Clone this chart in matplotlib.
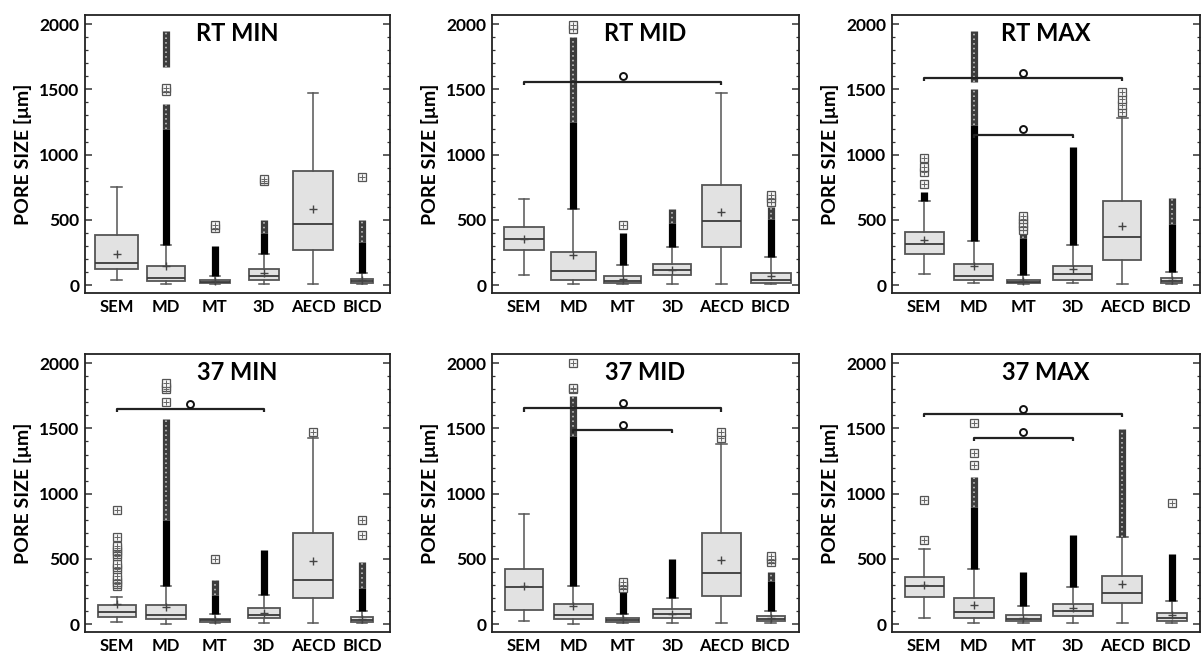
import matplotlib
matplotlib.use('Agg')
import matplotlib.pyplot as plt
from matplotlib.ticker import MultipleLocator

categories = ['SEM', 'MD', 'MT', '3D', 'AECD', 'BICD']
panel_titles = ['RT MIN', 'RT MID', 'RT MAX', '37 MIN', '37 MID', '37 MAX']
y_label = 'PORE SIZE [\u03bcm]'
y_ticks = [0, 500, 1000, 1500, 2000]

# box statistics, one row per panel, one column per category
whisker_low = [
    [38, 5, 5, 10, 10, 5],
    [74, 5, 5, 10, 5, 10],
    [84, 13, 8, 13, 5, 8],
    [18, 5, 8, 8, 8, 8],
    [26, 5, 8, 8, 10, 8],
    [51, 8, 8, 10, 12, 8],
]
quartile1 = [
    [120, 30, 13, 43, 266, 13],
    [266, 43, 18, 74, 292, 13],
    [237, 38, 13, 38, 191, 13],
    [56, 38, 18, 46, 197, 18],
    [107, 38, 18, 46, 217, 26],
    [209, 51, 25, 64, 166, 25],
]
medians = [
    [171, 56, 23, 69, 465, 30],
    [350, 107, 31, 115, 491, 36],
    [314, 69, 25, 82, 369, 30],
    [95, 69, 31, 72, 340, 31],
    [286, 69, 31, 77, 391, 38],
    [293, 97, 38, 102, 242, 51],
]
quartile3 = [
    [381, 146, 43, 125, 875, 49],
    [445, 256, 69, 164, 765, 95],
    [410, 160, 43, 145, 642, 51],
    [148, 146, 43, 123, 695, 56],
    [424, 153, 51, 115, 695, 59],
    [364, 199, 71, 158, 370, 89],
]
whisker_high = [
    [752, 307, 70, 235, 1476, 95],
    [662, 586, 158, 292, 1476, 215],
    [646, 336, 76, 306, 1279, 102],
    [210, 294, 77, 222, 1425, 102],
    [843, 294, 77, 204, 1379, 102],
    [578, 425, 140, 285, 669, 178],
]
means = [
    [235, 150, 30, 90, 580, 36],
    [350, 228, 45, 115, 560, 69],
    [344, 145, 30, 122, 453, 38],
    [153, 133, 35, 82, 485, 43],
    [291, 140, 38, 77, 490, 51],
    [298, 148, 51, 127, 311, 69],
]

# outliers: dense (overlapping) runs, looser stacked runs, single points
dense_runs = [
    [[], [(307, 1200)], [(70, 300)], [(235, 400)], [], [(95, 330)]],
    [[], [(586, 1250)], [(158, 400)], [(292, 480)], [], [(215, 510)]],
    [[(646, 712)], [(336, 1230)], [(76, 360)], [(306, 1060)], [], [(102, 470)]],
    [[], [(294, 800)], [(77, 220)], [(222, 570)], [], [(102, 280)]],
    [[], [(294, 1440)], [(77, 260)], [(204, 500)], [], [(102, 330)]],
    [[], [(425, 900)], [(140, 400)], [(285, 680)], [], [(178, 540)]],
]
loose_runs = [
    [[], [(1200, 1390), (1670, 1950)], [], [(400, 500)], [], [(330, 500)]],
    [[], [(1250, 1900)], [], [(480, 580)], [], [(510, 600)]],
    [[], [(1230, 1500), (1560, 1950)], [(360, 390)], [], [], [(470, 670)]],
    [[], [(800, 1570)], [(220, 335)], [], [], [(280, 480)]],
    [[], [(1440, 1750)], [], [], [], [(330, 400)]],
    [[], [(900, 1130)], [], [], [(669, 1497)], []],
]
single_points = [
    [[], [1490, 1510], [440, 460], [800, 815], [], [830]],
    [[], [1960, 1990], [460], [], [], [640, 670, 690]],
    [[774, 865, 904, 973], [], [420, 450, 480, 510, 530], [], [1330, 1380, 1430, 1480], []],
    [[290, 305, 320, 345, 370, 420, 440, 460, 520, 540, 560, 580, 600, 670, 875],
     [1700, 1800, 1820, 1850], [500], [], [1475], [680, 800]],
    [[], [1800, 1810, 2000], [280, 300, 320], [], [1430, 1475], [480, 500, 520]],
    [[645, 948], [1220, 1310, 1540], [], [], [], [932]],
]

# significance brackets: (panel, first category, second category, height)
brackets = [
    (1, 0, 4, 1558),
    (2, 0, 4, 1587),
    (2, 1, 3, 1152),
    (3, 0, 3, 1647),
    (4, 0, 4, 1653),
    (4, 1, 3, 1487),
    (5, 0, 4, 1610),
    (5, 1, 3, 1427),
]

# ---------- styling / layout ----------
box_widths = [
    [0.88, 0.76, 0.62, 0.62, 0.80, 0.45],
    [0.80, 0.90, 0.74, 0.78, 0.78, 0.80],
    [0.78, 0.78, 0.66, 0.78, 0.76, 0.43],
    [0.76, 0.82, 0.60, 0.64, 0.82, 0.43],
    [0.78, 0.78, 0.66, 0.78, 0.78, 0.56],
    [0.78, 0.80, 0.70, 0.80, 0.80, 0.60],
]
axes_rects = [
    [0.0706, 0.5527, 0.2533, 0.4244],
    [0.4086, 0.5527, 0.2550, 0.4244],
    [0.7409, 0.5527, 0.2558, 0.4244],
    [0.0706, 0.0351, 0.2533, 0.4244],
    [0.4086, 0.0351, 0.2550, 0.4244],
    [0.7409, 0.0351, 0.2558, 0.4244],
]
FONT = 'Lato'
edge = '#555555'
fill = '#e2e2e2'

fig = plt.figure(figsize=(12.04, 6.55), dpi=100)
positions = list(range(1, len(categories) + 1))

for p in range(6):
    ax = fig.add_axes(axes_rects[p])
    stats = []
    for c in range(len(categories)):
        stats.append(dict(whislo=whisker_low[p][c], q1=quartile1[p][c], med=medians[p][c],
                          q3=quartile3[p][c], whishi=whisker_high[p][c], mean=means[p][c],
                          fliers=[]))
    ax.bxp(stats, positions=positions, widths=box_widths[p], patch_artist=True,
           showmeans=True, showfliers=False, capwidths=0.22,
           boxprops=dict(facecolor=fill, edgecolor=edge, linewidth=1.3),
           medianprops=dict(color='#3a3a3a', linewidth=1.3),
           whiskerprops=dict(color=edge, linewidth=1.1),
           capprops=dict(color=edge, linewidth=1.1),
           meanprops=dict(marker='+', markeredgecolor='#444444', markersize=6,
                          markeredgewidth=1.0))
    for c, x in enumerate(positions):
        for lo, hi in loose_runs[p][c]:
            ax.vlines(x, lo, hi, colors='#3c3c3c', linewidth=5.2, zorder=3)
            ax.vlines(x, lo, hi, colors='#b0b0b0', linewidth=1.4, zorder=3.1,
                      linestyles=(0, (0.8, 1.6)))
        for lo, hi in dense_runs[p][c]:
            ax.vlines(x, lo, hi, colors='black', linewidth=5.2, zorder=3.2)
        pts = single_points[p][c]
        if pts:
            ax.plot([x] * len(pts), pts, linestyle='none', marker='s', markersize=5.5,
                    markerfacecolor='#f4f4f4', markeredgecolor='#555555',
                    markeredgewidth=0.9, zorder=4)
            ax.plot([x] * len(pts), pts, linestyle='none', marker='+', markersize=4.5,
                    markeredgecolor='#666666', markeredgewidth=0.7, zorder=4.1)

    for (bp, i, j, yb) in brackets:
        if bp != p:
            continue
        xi, xj = positions[i], positions[j]
        ax.plot([xi, xi, xj, xj], [yb - 25, yb, yb, yb - 25], color='#222222',
                linewidth=1.6, zorder=5, solid_capstyle='butt')
        ax.plot([(xi + xj) / 2], [yb + 42], marker='o', markersize=5,
                markerfacecolor='white', markeredgecolor='#111111',
                markeredgewidth=1.4, zorder=5)

    ax.set_xlim(0.35, 6.57)
    ax.set_ylim(-60, 2070)
    ax.set_xticks(positions)
    ax.set_xticklabels(categories, fontfamily=FONT, fontweight='bold', fontsize=12)
    ax.set_yticks(y_ticks)
    ax.set_yticklabels([str(t) for t in y_ticks], fontfamily=FONT, fontweight='bold',
                       fontsize=12.5)
    ax.yaxis.set_minor_locator(MultipleLocator(100))
    ax.tick_params(axis='x', length=0, pad=4)
    ax.tick_params(axis='y', which='major', direction='in', length=5, width=1.1,
                   left=True, right=True, pad=4, color='#333333')
    ax.tick_params(axis='y', which='minor', direction='in', length=2.5, width=0.9,
                   left=True, right=True, color='#333333')
    for s in ax.spines.values():
        s.set_linewidth(1.3)
        s.set_color('#222222')
    ax.set_ylabel(y_label, fontfamily=FONT, fontweight='bold', fontsize=14, labelpad=5)
    ax.text(0.5, 0.935, panel_titles[p], transform=ax.transAxes, ha='center', va='center',
            fontfamily=FONT, fontweight='bold', fontsize=17)

fig.savefig('out.png', dpi=100)
